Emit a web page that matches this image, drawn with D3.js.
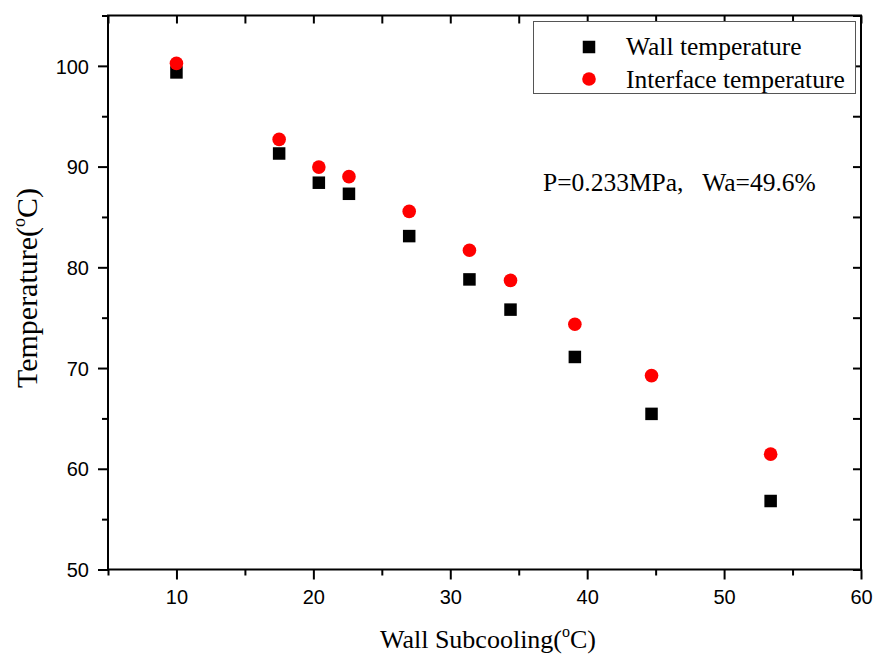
<!DOCTYPE html>
<html><head><meta charset="utf-8">
<script src="https://cdn.jsdelivr.net/npm/d3@7"></script>
<style>body{margin:0;background:#fff}svg{display:block}</style>
</head><body>
<svg id="c" width="880" height="655"></svg>
<script>
const subcooling = [10.0, 17.5, 20.4, 22.6, 27.0, 31.4, 34.4, 39.1, 44.7, 53.4];
const wallTemp = [99.35, 91.3, 88.4, 87.3, 83.1, 78.8, 75.8, 71.1, 65.45, 56.8];
const interfaceTemp = [100.25, 92.7, 89.95, 89.0, 85.55, 81.7, 78.7, 74.35, 69.25, 61.45];
const seriesNames = ["Wall temperature", "Interface temperature"];
const xTicks = [10, 20, 30, 40, 50, 60];
const yTicks = [50, 60, 70, 80, 90, 100];
const annotation = "P=0.233MPa,   Wa=49.6%";

const svg = d3.select("#c");
const L = 108, R = 861, T = 15.5, B = 569.5;
const x = d3.scaleLinear().domain([5, 60]).range([L, R]);
const y = d3.scaleLinear().domain([50, 105]).range([B, T]);
const minorX = d3.range(5, 61, 5);
const minorY = d3.range(50, 106, 5);
const serif = "Liberation Serif, Times New Roman, serif";

const g = svg.append("g");
const bx = g.append("g").attr("transform", `translate(0,${B})`)
  .call(d3.axisBottom(x).tickValues(minorX).tickSize(10).tickFormat(d => xTicks.includes(d) ? d : ""));
bx.selectAll(".tick line").attr("y2", d => xTicks.includes(d) ? 10 : 6);
bx.selectAll("text").attr("dy", "0").attr("y", 34);
const ly = g.append("g").attr("transform", `translate(${L},0)`)
  .call(d3.axisLeft(y).tickValues(minorY).tickSize(10).tickFormat(d => yTicks.includes(d) ? d : ""));
ly.selectAll(".tick line").attr("x2", d => yTicks.includes(d) ? -10 : -6);
ly.selectAll("text").attr("dy", "0.36em").attr("x", -19);
const tx = g.append("g").attr("transform", `translate(0,${T})`)
  .call(d3.axisTop(x).tickValues(minorX).tickSize(-8).tickFormat(""));
const ry = g.append("g").attr("transform", `translate(${R},0)`)
  .call(d3.axisRight(y).tickValues(minorY).tickSize(-8).tickFormat(""));
[bx, ly, tx, ry].forEach(a => {
  a.select(".domain").attr("stroke", "#000").attr("stroke-width", 2);
  a.selectAll(".tick line").attr("stroke", "#000").attr("stroke-width", 2);
  a.selectAll("text").attr("font-family", "Liberation Sans, Arial, sans-serif")
    .attr("font-size", 20).attr("fill", "#000");
});
bx.selectAll(".domain").attr("d", `M${L - 1},0H${R + 1}`);
tx.selectAll(".domain").attr("d", `M${L - 1},0H${R + 1}`);
ly.selectAll(".domain").attr("d", `M0,${B}V${T}`);
ry.selectAll(".domain").attr("d", `M0,${B}V${T}`);

const data = subcooling.map((s, i) => ({s, w: wallTemp[i], f: interfaceTemp[i]}));
const sq = 12.5;
svg.append("g").selectAll("rect").data(data).join("rect")
  .attr("x", d => x(d.s) - sq / 2).attr("y", d => y(d.w) - sq / 2)
  .attr("width", sq).attr("height", sq).attr("fill", "#000");
svg.append("g").selectAll("circle").data(data).join("circle")
  .attr("cx", d => x(d.s)).attr("cy", d => y(d.f)).attr("r", 6.8).attr("fill", "#ff0000");

const lg = svg.append("g");
lg.append("rect").attr("x", 533.5).attr("y", 21.5).attr("width", 322).attr("height", 72)
  .attr("fill", "#fff").attr("stroke", "#555").attr("stroke-width", 1);
lg.append("rect").attr("x", 589 - 6.25).attr("y", 47 - 6.25).attr("width", 12.5).attr("height", 12.5).attr("fill", "#000");
lg.append("circle").attr("cx", 589).attr("cy", 79).attr("r", 6.8).attr("fill", "#ff0000");
lg.selectAll("text").data(seriesNames).join("text")
  .attr("x", 626).attr("y", (d, i) => 55 + i * 32.5)
  .attr("font-family", serif).attr("font-size", 25.5)
  .attr("fill", "#000").text(d => d);

svg.append("text").attr("x", 543).attr("y", 191).style("white-space", "pre")
  .attr("font-family", serif).attr("font-size", 25.5)
  .attr("fill", "#000").text(annotation);

const xt = svg.append("text").attr("x", 488).attr("y", 648).attr("text-anchor", "middle")
  .attr("font-family", serif).attr("font-size", 26).attr("fill", "#000");
xt.append("tspan").text("Wall Subcooling(");
xt.append("tspan").attr("font-size", 16).attr("dy", -11).text("o");
xt.append("tspan").attr("dy", 11).text("C)");

const yt = svg.append("text").attr("transform", "translate(37,288) rotate(-90)").attr("text-anchor", "middle")
  .attr("font-family", serif).attr("font-size", 30).attr("fill", "#000");
yt.append("tspan").text("Temperature(");
yt.append("tspan").attr("font-size", 18).attr("dy", -12).text("o");
yt.append("tspan").attr("dy", 12).text("C)");
</script>
</body></html>
